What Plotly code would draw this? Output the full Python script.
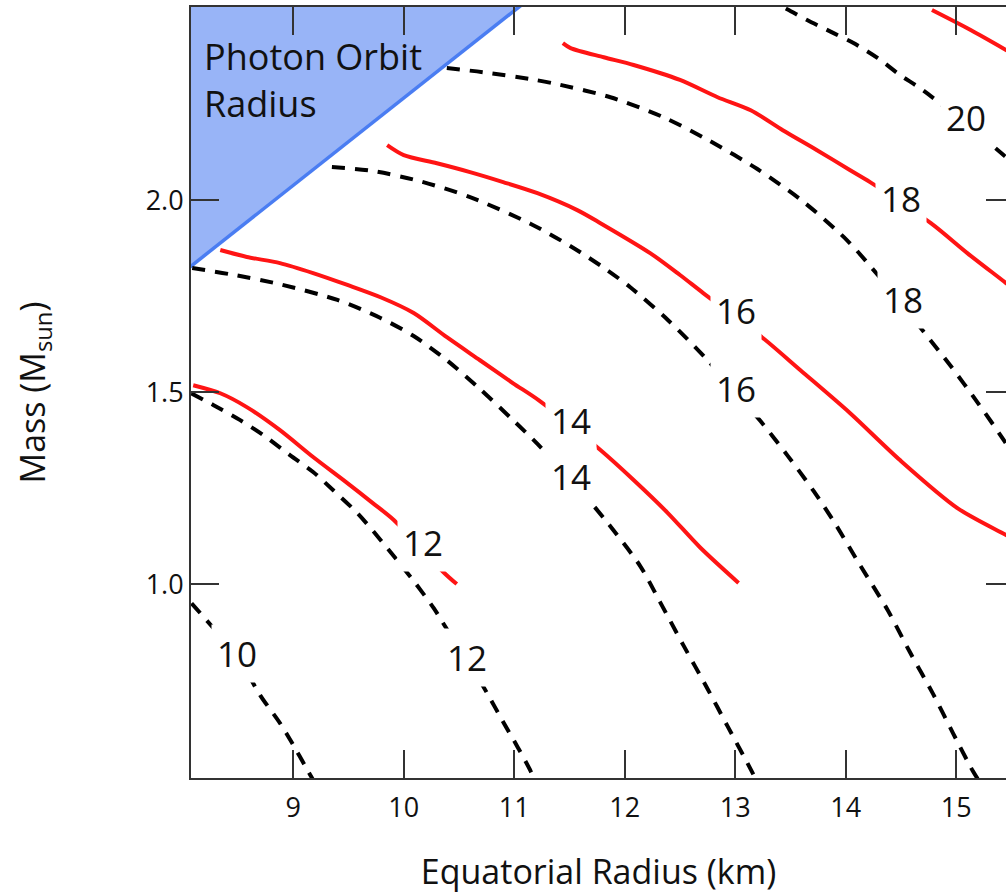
import plotly.graph_objects as go

# Equatorial radius (km) and mass (M_sun) along each curve
# Dashed black curves: constant radius contours
dash_10_r = [8.08, 8.31, 8.49, 8.70, 8.88, 8.99, 9.14, 9.18]
dash_10_m = [0.95, 0.875, 0.815, 0.711, 0.638, 0.586, 0.510, 0.490]

dash_12_r = [8.077, 8.28, 8.52, 8.73, 8.97, 9.18, 9.36, 9.58, 9.79, 10.09, 10.27, 10.39, 10.57, 10.77, 10.90, 11.03, 11.15, 11.18]
dash_12_m = [1.497, 1.466, 1.427, 1.388, 1.336, 1.292, 1.245, 1.185, 1.115, 1.008, 0.938, 0.883, 0.807, 0.708, 0.641, 0.576, 0.512, 0.490]

dash_14_r = [8.086, 8.43, 8.88, 9.40, 9.79, 10.09, 10.39, 10.69, 10.99, 11.21, 11.51, 11.81, 12.14, 12.32, 12.53, 12.75, 12.93, 13.11, 13.19]
dash_14_m = [1.823, 1.807, 1.781, 1.740, 1.693, 1.646, 1.583, 1.508, 1.427, 1.365, 1.273, 1.172, 1.047, 0.953, 0.841, 0.727, 0.630, 0.534, 0.490]

dash_16_r = [9.35, 9.72, 10.15, 10.60, 11.15, 11.51, 11.84, 12.05, 12.39, 12.75, 13.23, 13.47, 13.71, 13.89, 14.13, 14.38, 14.58, 14.79, 14.97, 15.15, 15.20]
dash_16_m = [2.086, 2.076, 2.049, 2.008, 1.938, 1.880, 1.818, 1.773, 1.688, 1.583, 1.424, 1.336, 1.242, 1.164, 1.049, 0.932, 0.823, 0.714, 0.612, 0.513, 0.490]

dash_18_r = [10.39, 10.72, 11.15, 11.39, 11.87, 12.35, 12.77, 13.20, 13.62, 14.01, 14.29, 14.70, 14.95, 15.19, 15.43, 15.67]
dash_18_m = [2.344, 2.333, 2.315, 2.302, 2.268, 2.216, 2.154, 2.081, 1.995, 1.896, 1.805, 1.659, 1.568, 1.474, 1.375, 1.266]

dash_20_r = [13.27, 13.47, 13.65, 13.89, 14.07, 14.29, 14.49, 14.70, 15.43, 15.67]
dash_20_m = [2.526, 2.497, 2.469, 2.435, 2.409, 2.370, 2.326, 2.286, 2.117, 2.052]

# Solid red curves
red_12_r = [8.095, 8.34, 8.58, 8.88, 9.18, 9.49, 9.72, 9.91, 10.36, 10.48]
red_12_m = [1.518, 1.497, 1.461, 1.401, 1.331, 1.263, 1.211, 1.167, 1.031, 1.000]

red_14_r = [8.34, 8.58, 8.88, 9.18, 9.49, 9.79, 10.09, 10.39, 10.69, 10.99, 11.22, 11.78, 12.08, 12.39, 12.68, 13.03]
red_14_m = [1.870, 1.852, 1.836, 1.810, 1.779, 1.747, 1.706, 1.643, 1.583, 1.523, 1.479, 1.349, 1.271, 1.185, 1.096, 1.003]

red_16_r = [9.85, 10.00, 10.30, 10.60, 10.90, 11.21, 11.57, 11.78, 12.23, 12.50, 12.71, 13.25, 13.59, 14.04, 14.49, 15.01, 15.45, 15.76]
red_16_m = [2.143, 2.117, 2.096, 2.073, 2.047, 2.018, 1.974, 1.940, 1.862, 1.805, 1.758, 1.641, 1.557, 1.445, 1.323, 1.198, 1.128, 1.081]

red_18_r = [11.44, 11.51, 11.81, 12.08, 12.50, 12.84, 13.14, 13.43, 13.74, 14.04, 14.22, 14.77, 15.10, 15.45, 15.76]
red_18_m = [2.409, 2.396, 2.372, 2.352, 2.313, 2.268, 2.234, 2.182, 2.130, 2.078, 2.047, 1.940, 1.862, 1.784, 1.714]

red_20_r = [14.78, 15.13, 15.45, 15.76]
red_20_m = [2.495, 2.443, 2.391, 2.339]

# Photon orbit boundary (line) and the excluded region above it
photon_r = [8.0, 11.1]
photon_m = [1.811, 2.516]

# Contour labels: text, radius, mass
dash_labels = ["10", "12", "14", "16", "18", "20"]
dash_label_r = [8.49, 10.57, 11.51, 13.01, 14.52, 15.09]
dash_label_m = [0.818, 0.810, 1.281, 1.510, 1.740, 2.216]

red_labels = ["12", "14", "16", "18"]
red_label_r = [10.17, 11.51, 13.01, 14.50]
red_label_m = [1.109, 1.427, 1.713, 2.003]

x_ticks = [9, 10, 11, 12, 13, 14, 15]
y_ticks = [1.0, 1.5, 2.0]
y_tick_text = ["1.0", "1.5", "2.0"]

X_RANGE = [8.075, 15.45]
Y_RANGE = [0.495, 2.503]

FONT = "Open Sans, Noto Sans, sans-serif"
RED = "#ff1414"
DASH = "13px,10px"

fig = go.Figure()

# Shaded photon-orbit region: polygon closed well above the plot top
fig.add_trace(go.Scatter(
    x=photon_r + [photon_r[-1], photon_r[0]],
    y=photon_m + [3.0, 3.0],
    fill="toself", fillcolor="#98b4f7", mode="none",
    hoverinfo="skip", showlegend=False,
))
fig.add_trace(go.Scatter(
    x=photon_r, y=photon_m, mode="lines",
    line=dict(color="#4a7df2", width=3.5), showlegend=False,
))

for r, m in [(dash_10_r, dash_10_m), (dash_12_r, dash_12_m), (dash_14_r, dash_14_m),
             (dash_16_r, dash_16_m), (dash_18_r, dash_18_m), (dash_20_r, dash_20_m)]:
    fig.add_trace(go.Scatter(
        x=r, y=m, mode="lines", line_shape="spline", line_smoothing=0.8,
        line=dict(color="black", width=4, dash=DASH), showlegend=False,
    ))

for r, m in [(red_12_r, red_12_m), (red_14_r, red_14_m), (red_16_r, red_16_m),
             (red_18_r, red_18_m), (red_20_r, red_20_m)]:
    fig.add_trace(go.Scatter(
        x=r, y=m, mode="lines", line_shape="spline", line_smoothing=0.8,
        line=dict(color=RED, width=4), showlegend=False,
    ))

# Contour labels with white backing to break the curves
for txt, r, m in zip(dash_labels + red_labels, dash_label_r + red_label_r, dash_label_m + red_label_m):
    fig.add_annotation(
        x=r, y=m, text=txt, showarrow=False,
        font=dict(family=FONT, size=35, color="#111"),
        bgcolor="white", borderpad=5,
    )

fig.add_annotation(
    x=8.17, y=2.3125, xanchor="left", yanchor="middle", align="left",
    text="Photon Orbit<br>Radius", showarrow=False,
    font=dict(family=FONT, size=36, color="#111"),
)

axis_common = dict(
    ticks="inside", ticklen=28, tickwidth=2, tickcolor="#333",
    showline=True, linecolor="#333", linewidth=2,
    showgrid=False, zeroline=False,
    tickfont=dict(family=FONT, size=27, color="#111"),
)

fig.update_layout(
    width=1006, height=894,
    margin=dict(l=191, r=0, t=7, b=116),
    paper_bgcolor="white", plot_bgcolor="white",
    xaxis=dict(
        range=X_RANGE, tickvals=x_ticks, mirror="ticks", ticklabelstandoff=5,
        title=dict(text="Equatorial Radius (km)", font=dict(family=FONT, size=34, color="#111"), standoff=40),
        **axis_common,
    ),
    yaxis=dict(
        range=Y_RANGE, tickvals=y_ticks, ticktext=y_tick_text,
        title=dict(text="Mass (M<sub>sun</sub>)", font=dict(family=FONT, size=34, color="#111"), standoff=90),
        **axis_common,
    ),
    yaxis2=dict(
        range=Y_RANGE, tickvals=y_ticks, overlaying="y", side="right",
        ticks="inside", ticklen=20, tickwidth=2, tickcolor="#333",
        showline=False, showticklabels=False, showgrid=False, zeroline=False,
    ),
)
# invisible trace to activate the right-hand tick axis
fig.add_trace(go.Scatter(x=[X_RANGE[0]], y=[Y_RANGE[0]], yaxis="y2", mode="none",
                         showlegend=False, hoverinfo="skip"))

fig.write_html("out.html")
